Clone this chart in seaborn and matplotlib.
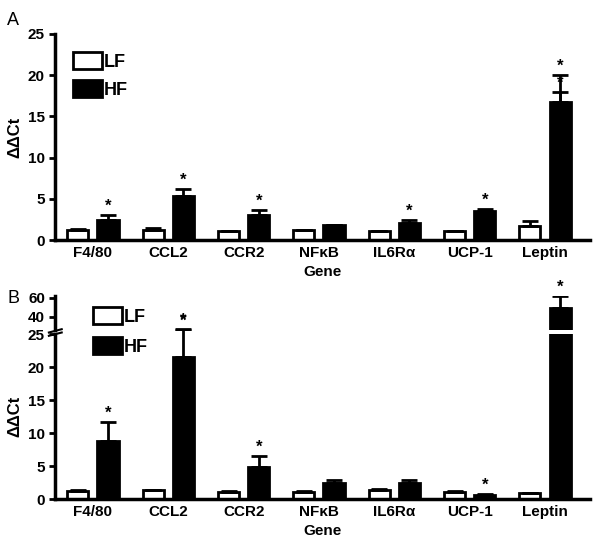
import matplotlib
matplotlib.use("Agg")
import matplotlib.pyplot as plt
import seaborn as sns
import pandas as pd
import numpy as np

plt.rcParams["font.family"] = "Liberation Sans"
plt.rcParams["font.weight"] = "bold"

genes = ["F4/80", "CCL2", "CCR2", "NFκB", "IL6Rα", "UCP-1", "Leptin"]
groups = ["LF", "HF"]
a_lf = [1.2, 1.3, 1.1, 1.2, 1.1, 1.1, 1.7]
a_lf_err = [0.2, 0.2, 0.05, 0.1, 0.05, 0.05, 0.6]
a_hf = [2.5, 5.3, 3.0, 1.8, 2.1, 3.5, 16.8]
a_hf_err = [0.5, 0.9, 0.7, 0.1, 0.3, 0.3, 3.2]
a_sig = [True, True, True, False, True, True, True]
b_lf = [1.2, 1.3, 1.1, 1.1, 1.4, 1.1, 0.9]
b_lf_err = [0.1, 0.1, 0.05, 0.05, 0.1, 0.05, 0.05]
b_hf = [8.8, 21.5, 4.9, 2.5, 2.4, 0.6, 48.8]
b_hf_err = [2.9, 4.3, 1.6, 0.4, 0.5, 0.1, 12.9]
b_sig = [True, True, True, False, False, True, True]

def frame(lf, hf, lfe, hfe):
    return pd.DataFrame({"gene": genes * 2, "group": ["LF"] * 7 + ["HF"] * 7,
                         "val": lf + hf, "err": lfe + hfe})

fig = plt.figure(figsize=(6.01, 5.46), dpi=100)
axA = fig.add_axes([0.092, 0.56, 0.89, 0.378])
axB = fig.add_axes([0.092, 0.086, 0.89, 0.302])
axBt = fig.add_axes([0.092, 0.396, 0.89, 0.062])

def bars(ax, df, sig=None, legend=False, clip=True):
    sns.barplot(data=df, x="gene", y="val", hue="group", hue_order=groups,
                palette={"LF": "white", "HF": "black"}, edgecolor="black",
                linewidth=2, width=0.8, gap=0.3, errorbar=None, ax=ax,
                legend=legend)
    pts = [p for p in ax.patches if p.get_height() > 0]
    for p, (_, r) in zip(pts, df.iterrows()):
        cx = p.get_x() + p.get_width() / 2
        ax.errorbar(cx, r.val, yerr=[[0], [r.err]], color="black", capsize=6,
                    capthick=2, elinewidth=2, clip_on=clip)
    if sig is not None:
        for p, (_, r) in zip(pts[7:], df.iloc[7:].iterrows()):
            i = genes.index(r.gene)
            if sig[i]:
                cx = p.get_x() + p.get_width() / 2
                ax.annotate("*", (cx, r.val + r.err), xytext=(0, 1),
                            textcoords="offset points", ha="center",
                            va="bottom", fontsize=12, fontweight="bold",
                            annotation_clip=clip)

def style(ax):
    sns.despine(ax=ax)
    for s in ["left", "bottom"]:
        ax.spines[s].set_linewidth(2.5)
    ax.tick_params(width=2, length=4, labelsize=11)
    ax.set_xlim(-0.5, 6.6)

dfA = frame(a_lf, a_hf, a_lf_err, a_hf_err)
bars(axA, dfA, a_sig, legend=True)
style(axA)
axA.set_ylim(0, 25)
axA.set_yticks([0, 5, 10, 15, 20, 25])
axA.set_xlabel("Gene", fontsize=11, fontweight="bold")
axA.set_ylabel("ΔΔCt", fontsize=12, fontweight="bold")
axA.legend(loc="upper left", frameon=False, fontsize=13, handlelength=1.6,
           handleheight=1.1, borderaxespad=0.6, handletextpad=0.1)
axA.tick_params(axis="x", length=0, pad=4)

dfB = frame(b_lf, b_hf, b_lf_err, b_hf_err)
bars(axB, dfB, b_sig, legend=False, clip=False)
style(axB)
axB.set_ylim(0, 25)
axB.set_yticks([0, 5, 10, 15, 20, 25])
axB.set_xlabel("Gene", fontsize=11, fontweight="bold")
axB.set_ylabel("ΔΔCt", fontsize=12, fontweight="bold")
axB.tick_params(axis="x", length=0, pad=4)
# hide the CCL2 cap artifacts beyond break are fine; leptin part above handled by top axis
for line in axB.lines:
    pass

bars(axBt, dfB, b_sig, legend=True)
style(axBt)
axBt.spines["bottom"].set_visible(False)
axBt.set_ylim(26, 62)
axBt.set_yticks([40, 60])
axBt.set_xticks([])
axBt.set_xlabel("")
axBt.set_ylabel("")
axBt.legend(loc="upper left", bbox_to_anchor=(0.04, 1.15), frameon=False,
            fontsize=13, handlelength=1.6, handleheight=1.1,
            handletextpad=0.1, labelspacing=0.6)
axBt.patch.set_alpha(0)

# break marks
for y in (1.0, 1.02):
    axB.plot([-0.012, 0.012], [y - 0.01, y + 0.01], transform=axB.transAxes,
             color="black", lw=1.5, clip_on=False)

fig.text(0.012, 0.955, "A", fontsize=13, fontweight="normal")
fig.text(0.012, 0.445, "B", fontsize=13, fontweight="normal")
fig.savefig("out.png", dpi=100)
